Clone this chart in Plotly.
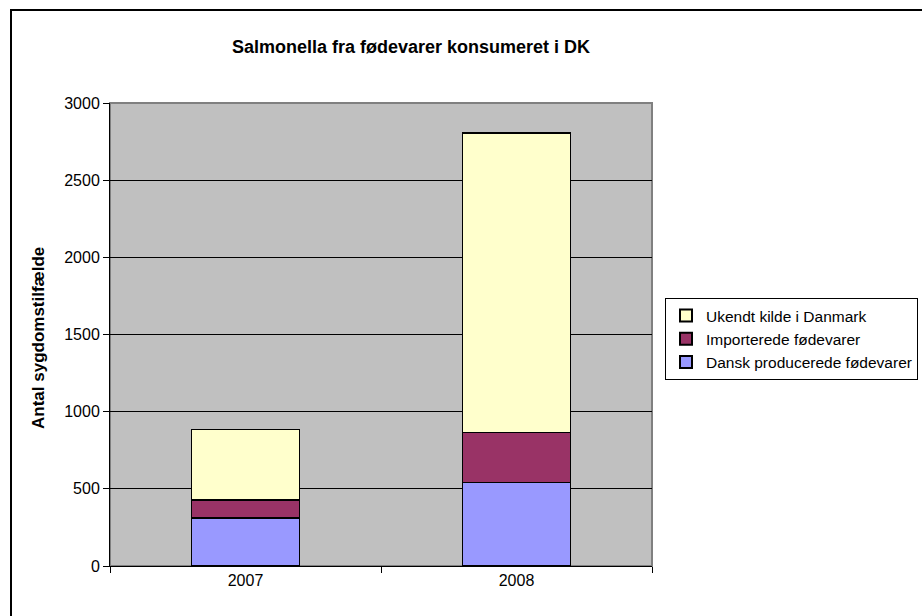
import plotly.graph_objects as go

categories = ["2007", "2008"]
dansk = [311, 542]
importeret = [117, 324]
ukendt = [458, 1939]
series_names = ["Dansk producerede fødevarer", "Importerede fødevarer", "Ukendt kilde i Danmark"]
colors = ["#9999FF", "#993366", "#FFFFCC"]
yticks = [0, 500, 1000, 1500, 2000, 2500, 3000]

FONT = "Arial, Liberation Sans, sans-serif"
W, H = 922, 616
L, R, T, B = 110, 652, 103, 566

def px(x):
    return (x - L) / (R - L)

def py(y):
    return (B - y) / (B - T)

fig = go.Figure()
for name, vals, col in zip(series_names, [dansk, importeret, ukendt], colors):
    fig.add_trace(go.Bar(x=categories, y=vals, name=name, marker=dict(color=col, line=dict(color="black", width=1.2)), width=0.4))

fig.update_layout(
    width=W, height=H,
    margin=dict(l=L, r=W - R, t=T, b=H - B, autoexpand=False),
    barmode="stack",
    paper_bgcolor="white",
    plot_bgcolor="#C0C0C0",
    font=dict(family=FONT, size=16, color="black"),
    title=dict(text="<b>Salmonella fra fødevarer konsumeret i DK</b>", x=px(411), xref="paper", xanchor="center",
               y=1 - 47 / H, yref="container", yanchor="middle", font=dict(size=18, family=FONT, color="black")),
    legend=dict(x=665 / W, y=1 - 298 / H, xref="container", yref="container", xanchor="left", yanchor="top",
                traceorder="reversed", bordercolor="black", borderwidth=1, bgcolor="white",
                font=dict(size=15.5, family=FONT), itemsizing="constant", tracegroupgap=0, itemwidth=30),
    showlegend=True,
)
fig.update_yaxes(range=[0, 3000], tickvals=yticks, ticks="outside", ticklen=6, tickcolor="black",
                 showline=True, linecolor="black", linewidth=1, gridcolor="black", gridwidth=1,
                 zeroline=False, tickfont=dict(size=16, family=FONT))
fig.update_xaxes(ticks="outside", tickson="boundaries", ticklen=6, tickcolor="black",
                 showline=True, linecolor="black", linewidth=1, showgrid=False,
                 tickfont=dict(size=16, family=FONT))

# plot area border (gray) and outer chart border
fig.add_shape(type="rect", xref="paper", yref="paper", x0=0, x1=1, y0=0, y1=1,
              line=dict(color="#808080", width=2), layer="below")
fig.add_shape(type="rect", xref="paper", yref="paper", x0=px(11), x1=px(925), y0=py(10), y1=py(630),
              line=dict(color="black", width=2))

fig.add_annotation(text="<b>Antal sygdomstilfælde</b>", xref="paper", yref="paper", x=px(38), y=py(338),
                   textangle=-90, showarrow=False, font=dict(size=17, family=FONT), xanchor="center", yanchor="middle")

fig.write_html("out.html")
